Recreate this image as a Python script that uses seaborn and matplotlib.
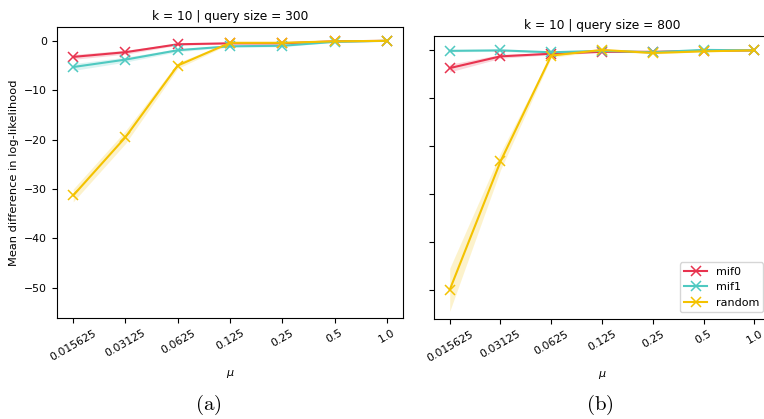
import numpy as np
import pandas as pd
import matplotlib
matplotlib.use("Agg")
import matplotlib.pyplot as plt
import seaborn as sns

mu_labels = ["0.015625", "0.03125", "0.0625", "0.125", "0.25", "0.5", "1.0"]
methods = ["mif0", "mif1", "random"]
colors = {"mif0": "#E8334F", "mif1": "#4FC9C1", "random": "#F4C200"}

# panel (a): query size 300
a_mif0 = [-3.25, -2.3, -0.7, -0.5, -0.5, -0.1, 0.0]
a_mif1 = [-5.3, -3.8, -1.9, -1.1, -1.0, -0.2, 0.0]
a_random = [-31.3, -19.5, -5.0, -0.4, -0.4, -0.1, 0.0]
a_mif0_err = [0.5, 0.4, 0.2, 0.15, 0.15, 0.1, 0.05]
a_mif1_err = [0.7, 0.5, 0.3, 0.2, 0.2, 0.1, 0.05]
a_random_err = [1.3, 1.3, 0.6, 0.2, 0.2, 0.1, 0.05]

# panel (b): query size 800
b_mif0 = [-3.7, -1.25, -0.7, -0.3, -0.3, -0.1, 0.0]
b_mif1 = [-0.1, 0.0, -0.4, -0.1, -0.4, 0.1, 0.0]
b_random = [-50.0, -23.2, -1.1, 0.1, -0.55, -0.2, 0.0]
b_mif0_err = [0.8, 0.4, 0.2, 0.15, 0.15, 0.1, 0.05]
b_mif1_err = [0.2, 0.2, 0.2, 0.15, 0.15, 0.1, 0.05]
b_random_err = [4.5, 1.8, 0.4, 0.2, 0.2, 0.1, 0.05]

titles = ["k = 10 | query size = 300", "k = 10 | query size = 800"]


def make_df(m0, m1, r, e0, e1, er):
    rows = []
    for name, vals, errs in zip(methods, [m0, m1, r], [e0, e1, er]):
        for lab, v, e in zip(mu_labels, vals, errs):
            rows.append({"mu": lab, "method": name, "value": v, "err": e})
    return pd.DataFrame(rows)


dfa = make_df(a_mif0, a_mif1, a_random, a_mif0_err, a_mif1_err, a_random_err)
dfb = make_df(b_mif0, b_mif1, b_random, b_mif0_err, b_mif1_err, b_random_err)

fig = plt.figure(figsize=(7.64, 4.19), dpi=100)
W, H = 764, 419
axa = fig.add_axes([57 / W, 1 - 318 / H, (403 - 57) / W, (318 - 27) / H])
axb = fig.add_axes([434 / W, 1 - 319 / H, (770 - 434) / W, (319 - 36) / H])

for ax, df, title, ylim in [(axa, dfa, titles[0], (-56.1, 2.8)),
                            (axb, dfb, titles[1], (-56.1, 3.0))]:
    sns.lineplot(data=df, x="mu", y="value", hue="method", palette=colors,
                 marker="x", markersize=6.5, markeredgewidth=1.1, linewidth=1.5,
                 ax=ax, legend=(ax is axb))
    for ln in ax.lines:
        ln.set_markeredgecolor(ln.get_color())
    xs = np.arange(len(mu_labels))
    for name in methods:
        sub = df[df["method"] == name]
        ax.fill_between(xs, sub["value"] - sub["err"], sub["value"] + sub["err"],
                        color=colors[name], alpha=0.2, linewidth=0)
    ax.set_ylim(*ylim)
    ax.set_xlim(-0.31, 6.31)
    ax.set_title(title, fontsize=8.8, pad=5)
    ax.set_xlabel(r"$\mu$", fontsize=8)
    ax.tick_params(axis="x", labelrotation=30, labelsize=7.8)
    ax.tick_params(axis="y", labelsize=7.8)
    for lbl in ax.get_xticklabels():
        lbl.set_ha("center")

axa.set_ylabel("Mean difference in log-likelihood", fontsize=8.2)
axb.set_ylabel("")
axb.set_yticks([0, -10, -20, -30, -40, -50])
axb.tick_params(axis="y", labelleft=False)
leg = axb.legend(loc="lower right", fontsize=8, frameon=True, borderaxespad=0.6)
for h in leg.legend_handles:
    h.set_markeredgecolor(h.get_color())

fig.text(208 / W, 1 - 405 / H, r"$\mathrm{(a)}$", fontsize=15, ha="center",
         va="center", math_fontfamily="cm")
fig.text(600 / W, 1 - 405 / H, r"$\mathrm{(b)}$", fontsize=15, ha="center",
         va="center", math_fontfamily="cm")

fig.savefig("out.png", dpi=100)
